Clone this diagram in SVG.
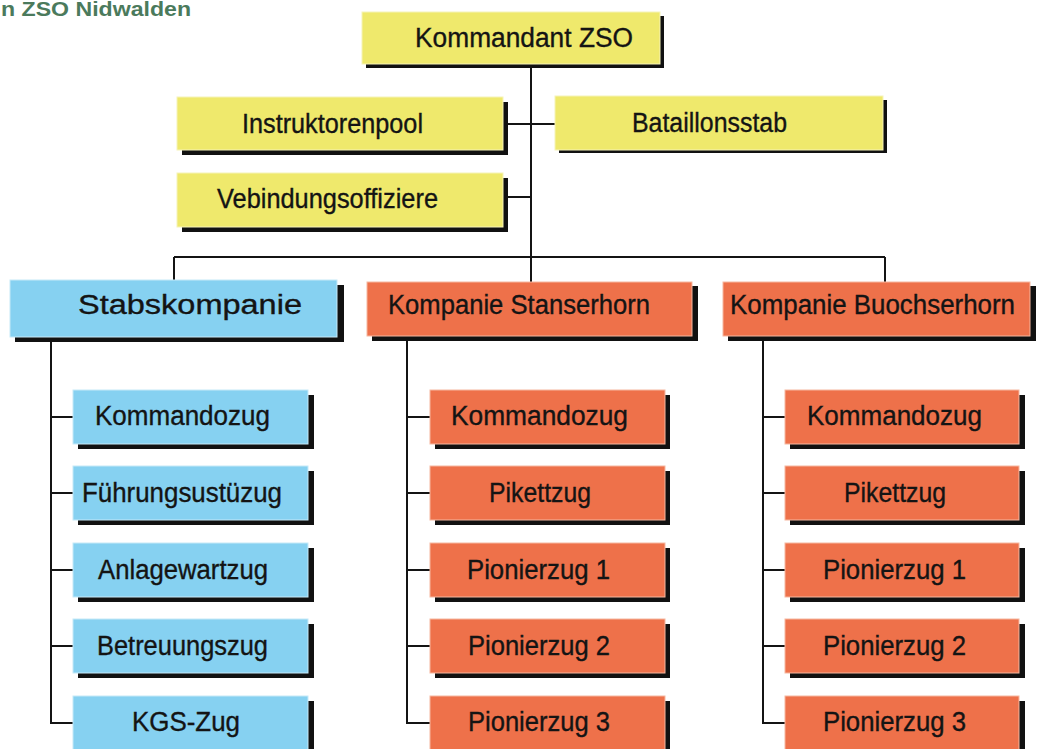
<svg xmlns="http://www.w3.org/2000/svg" width="1043" height="749" viewBox="0 0 1043 749">
<style>
.sh{fill:#111}
.y{fill:#EFE96C;stroke:#F6F3B8;stroke-width:1}
.b{fill:#86D1F1;stroke:#C6E9F8;stroke-width:1}
.o{fill:#EE714A;stroke:#F6B8A0;stroke-width:1}
text{font-family:"Liberation Sans",Arial,sans-serif;fill:#141414;font-size:27px;stroke:#141414;stroke-width:0.35}
.ln{stroke:#141414;stroke-width:2;fill:none}
</style>
<rect width="1043" height="749" fill="#FFFFFF"/>
<text x="1" y="16" style="font-size:20px;font-weight:bold;fill:#4B7A5C;stroke:none" textLength="190" lengthAdjust="spacingAndGlyphs">n ZSO Nidwalden</text>

<g id="connectors">
<path class="ln" d="M531 64V282M503 124H555M503 197H531M174 257H885M174 257V280M885 257V282"/>
<path class="ln" d="M51 337V723H73M51 417H73M51 493H73M51 570H73M51 646H73"/>
<path class="ln" d="M407 336V723H430M407 417H430M407 493H430M407 570H430M407 646H430"/>
<path class="ln" d="M763 336V723H785M763 417H785M763 493H785M763 570H785M763 646H785"/>
</g>

<g id="kommandant"><rect class="sh" x="366" y="16" width="298" height="52"/><rect class="y" x="362" y="12" width="298" height="52"/><text x="415" y="47" textLength="218" lengthAdjust="spacingAndGlyphs">Kommandant ZSO</text></g>
<g id="instruktorenpool"><rect class="sh" x="182" y="102" width="326" height="53"/><rect class="y" x="177" y="97" width="326" height="53"/><text x="242" y="133" textLength="181" lengthAdjust="spacingAndGlyphs">Instruktorenpool</text></g>
<g id="bataillonsstab"><rect class="sh" x="559" y="100" width="328" height="53"/><rect class="y" x="555" y="96" width="328" height="54"/><text x="632" y="132" textLength="155" lengthAdjust="spacingAndGlyphs">Bataillonsstab</text></g>
<g id="verbindungsoffiziere"><rect class="sh" x="182" y="178" width="326" height="54"/><rect class="y" x="177" y="173" width="326" height="54"/><text x="217" y="208" textLength="221" lengthAdjust="spacingAndGlyphs">Vebindungsoffiziere</text></g>

<g id="stabskompanie"><rect class="sh" x="15" y="285" width="329" height="57"/><rect class="b" x="10" y="280" width="327" height="57"/><text x="78" y="314" textLength="224" lengthAdjust="spacingAndGlyphs">Stabskompanie</text></g>
<g id="kp-stanserhorn"><rect class="sh" x="372" y="286" width="326" height="55"/><rect class="o" x="367" y="282" width="325" height="54"/><text x="388" y="314" textLength="262" lengthAdjust="spacingAndGlyphs">Kompanie Stanserhorn</text></g>
<g id="kp-buochserhorn"><rect class="sh" x="728" y="286" width="308" height="55"/><rect class="o" x="723" y="282" width="307" height="54"/><text x="730" y="314" textLength="285" lengthAdjust="spacingAndGlyphs">Kompanie Buochserhorn</text></g>

<g id="s-kommandozug"><rect class="sh" x="78" y="395" width="236" height="54"/><rect class="b" x="73" y="390" width="235" height="54"/><text x="95" y="425" textLength="175" lengthAdjust="spacingAndGlyphs">Kommandozug</text></g>
<g id="s-fuehrung"><rect class="sh" x="78" y="471" width="236" height="54"/><rect class="b" x="73" y="466" width="235" height="54"/><text x="82" y="502" textLength="200" lengthAdjust="spacingAndGlyphs">Führungsustüzug</text></g>
<g id="s-anlagewart"><rect class="sh" x="78" y="548" width="236" height="54"/><rect class="b" x="73" y="543" width="235" height="54"/><text x="98" y="579" textLength="170" lengthAdjust="spacingAndGlyphs">Anlagewartzug</text></g>
<g id="s-betreuung"><rect class="sh" x="78" y="624" width="236" height="54"/><rect class="b" x="73" y="619" width="235" height="54"/><text x="97" y="655" textLength="171" lengthAdjust="spacingAndGlyphs">Betreuungszug</text></g>
<g id="s-kgs"><rect class="sh" x="78" y="701" width="236" height="54"/><rect class="b" x="73" y="696" width="235" height="54"/><text x="132" y="731" textLength="108" lengthAdjust="spacingAndGlyphs">KGS-Zug</text></g>

<g id="m-kommandozug"><rect class="sh" x="435" y="395" width="235" height="54"/><rect class="o" x="430" y="390" width="235" height="54"/><text x="451" y="425" textLength="177" lengthAdjust="spacingAndGlyphs">Kommandozug</text></g>
<g id="m-pikett"><rect class="sh" x="435" y="471" width="235" height="54"/><rect class="o" x="430" y="466" width="235" height="54"/><text x="489" y="502" textLength="102" lengthAdjust="spacingAndGlyphs">Pikettzug</text></g>
<g id="m-pionier1"><rect class="sh" x="435" y="548" width="235" height="54"/><rect class="o" x="430" y="543" width="235" height="54"/><text x="467" y="579" textLength="143" lengthAdjust="spacingAndGlyphs">Pionierzug 1</text></g>
<g id="m-pionier2"><rect class="sh" x="435" y="624" width="235" height="54"/><rect class="o" x="430" y="619" width="235" height="54"/><text x="468" y="655" textLength="142" lengthAdjust="spacingAndGlyphs">Pionierzug 2</text></g>
<g id="m-pionier3"><rect class="sh" x="435" y="701" width="235" height="54"/><rect class="o" x="430" y="696" width="235" height="54"/><text x="468" y="731" textLength="142" lengthAdjust="spacingAndGlyphs">Pionierzug 3</text></g>

<g id="r-kommandozug"><rect class="sh" x="790" y="395" width="235" height="54"/><rect class="o" x="785" y="390" width="234" height="54"/><text x="807" y="425" textLength="175" lengthAdjust="spacingAndGlyphs">Kommandozug</text></g>
<g id="r-pikett"><rect class="sh" x="790" y="471" width="235" height="54"/><rect class="o" x="785" y="466" width="234" height="54"/><text x="844" y="502" textLength="102" lengthAdjust="spacingAndGlyphs">Pikettzug</text></g>
<g id="r-pionier1"><rect class="sh" x="790" y="548" width="235" height="54"/><rect class="o" x="785" y="543" width="234" height="54"/><text x="823" y="579" textLength="143" lengthAdjust="spacingAndGlyphs">Pionierzug 1</text></g>
<g id="r-pionier2"><rect class="sh" x="790" y="624" width="235" height="54"/><rect class="o" x="785" y="619" width="234" height="54"/><text x="823" y="655" textLength="143" lengthAdjust="spacingAndGlyphs">Pionierzug 2</text></g>
<g id="r-pionier3"><rect class="sh" x="790" y="701" width="235" height="54"/><rect class="o" x="785" y="696" width="234" height="54"/><text x="823" y="731" textLength="143" lengthAdjust="spacingAndGlyphs">Pionierzug 3</text></g>
</svg>
